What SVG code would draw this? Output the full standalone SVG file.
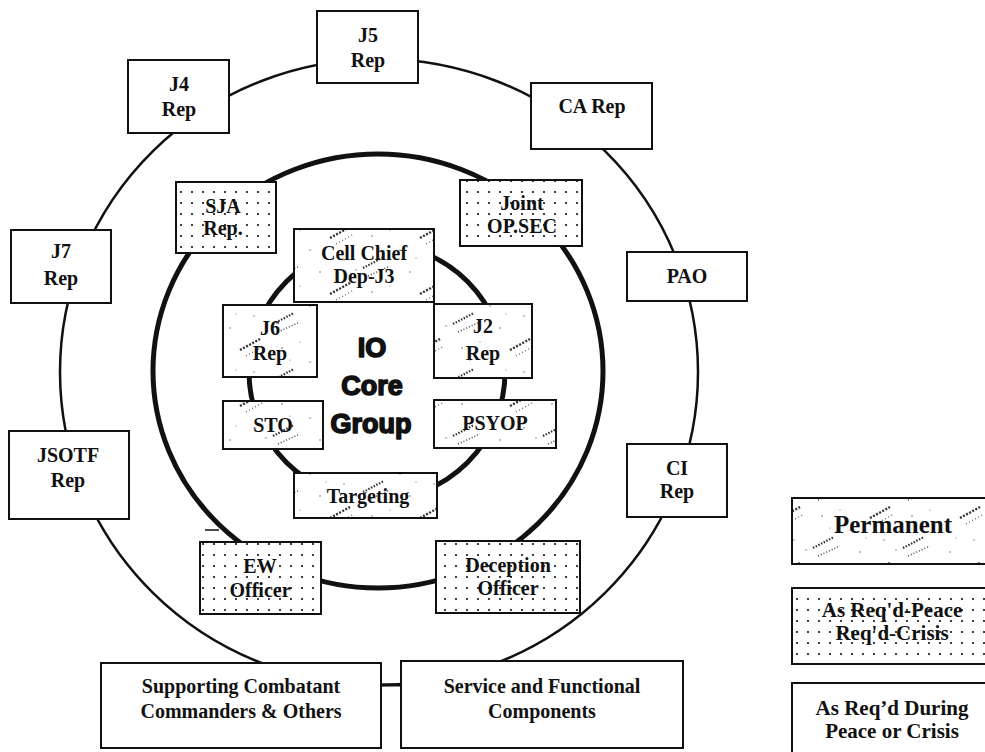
<svg xmlns="http://www.w3.org/2000/svg" width="985" height="752" viewBox="0 0 985 752">
<style>
text{font-family:"Liberation Serif","Times New Roman",serif;font-weight:bold;font-size:20px;fill:#111;text-anchor:middle}
.box{stroke:#111;stroke-width:2}
.plain{fill:#fff}
.perm{fill:url(#perm)}
.dots{fill:url(#dots)}
.core{font-family:"Liberation Sans",Arial,sans-serif;font-weight:bold;font-size:27px;stroke:#111;stroke-width:1.6;stroke-linejoin:round}
.ring{fill:none;stroke:#111}
</style>
<defs>
<pattern id="dots" patternUnits="userSpaceOnUse" width="11" height="11">
<rect width="11" height="11" fill="#fff"/>
<circle cx="5" cy="5" r="1.1" fill="#111"/>
</pattern>
<pattern id="perm" patternUnits="userSpaceOnUse" width="90" height="56">
<rect width="90" height="56" fill="#fff"/>
<path d="M3 44 L24 33" stroke="#333" stroke-width="2.2" stroke-dasharray="1.5 1.5"/>
<path d="M8 52 L30 42" stroke="#444" stroke-width="1.6" stroke-dasharray="1 2"/>
<path d="M60 14 L80 3" stroke="#333" stroke-width="2.4" stroke-dasharray="2 1.5"/>
<path d="M66 20 L84 10" stroke="#555" stroke-width="1.2" stroke-dasharray="1 2.5"/>
<g fill="#666">
<circle cx="12" cy="12" r="0.8"/><circle cx="40" cy="26" r="0.7"/><circle cx="50" cy="48" r="0.8"/>
<circle cx="74" cy="36" r="0.7"/><circle cx="30" cy="6" r="0.6"/><circle cx="86" cy="46" r="0.7"/>
<circle cx="20" cy="24" r="0.6"/><circle cx="56" cy="34" r="0.6"/>
</g>
</pattern>
</defs>

<g id="connectors">
<ellipse class="ring" cx="379" cy="372" rx="319" ry="313" stroke-width="2.5"/>
<ellipse class="ring" cx="378" cy="371" rx="225" ry="217" stroke-width="5"/>
<circle class="ring" cx="377" cy="372" r="128" stroke-width="5"/>
<line x1="381" y1="685" x2="401" y2="685" stroke="#111" stroke-width="3"/>
<line x1="205" y1="530" x2="219" y2="530" stroke="#111" stroke-width="1.5"/>
</g>

<g id="j5"><rect class="box plain" x="317" y="11" width="101" height="72"/><text x="368" y="42">J5</text><text x="368" y="67">Rep</text></g>
<g id="j4"><rect class="box plain" x="128" y="60" width="101" height="73"/><text x="179" y="91">J4</text><text x="179" y="116">Rep</text></g>
<g id="ca"><rect class="box plain" x="531" y="83" width="121" height="66"/><text x="592" y="113">CA Rep</text></g>
<g id="j7"><rect class="box plain" x="11" y="230" width="100" height="73"/><text x="61" y="258">J7</text><text x="61" y="285">Rep</text></g>
<g id="pao"><rect class="box plain" x="627" y="252" width="120" height="49"/><text x="687" y="283">PAO</text></g>
<g id="jsotf"><rect class="box plain" x="9" y="431" width="120" height="88"/><text x="68" y="462">JSOTF</text><text x="68" y="487">Rep</text></g>
<g id="ci"><rect class="box plain" x="627" y="444" width="100" height="73"/><text x="677" y="475">CI</text><text x="677" y="498">Rep</text></g>
<g id="supporting"><rect class="box plain" x="101" y="663" width="280" height="85"/><text x="241" y="693">Supporting Combatant</text><text x="241" y="718">Commanders &amp; Others</text></g>
<g id="service"><rect class="box plain" x="401" y="661" width="282" height="87"/><text x="542" y="693">Service and Functional</text><text x="542" y="718">Components</text></g>

<g id="sja"><rect class="box dots" x="176" y="182" width="100" height="71"/><text x="223" y="213">SJA</text><text x="223" y="235">Rep.</text></g>
<g id="opsec"><rect class="box dots" x="460" y="180" width="122" height="66"/><text x="522" y="210">Joint</text><text x="522" y="233">OP.SEC</text></g>
<g id="ew"><rect class="box dots" x="200" y="542" width="121" height="72"/><text x="260" y="573">EW</text><text x="260" y="597">Officer</text></g>
<g id="deception"><rect class="box dots" x="436" y="541" width="144" height="72"/><text x="508" y="572">Deception</text><text x="508" y="595">Officer</text></g>

<g id="cellchief"><rect class="box perm" x="294" y="229" width="140" height="73"/><text x="364" y="260">Cell Chief</text><text x="364" y="283">Dep-J3</text></g>
<g id="j6"><rect class="box perm" x="223" y="305" width="94" height="72"/><text x="270" y="335">J6</text><text x="270" y="360">Rep</text></g>
<g id="j2"><rect class="box perm" x="434" y="304" width="98" height="74"/><text x="483" y="333">J2</text><text x="483" y="360">Rep</text></g>
<g id="sto"><rect class="box perm" x="223" y="401" width="100" height="48"/><text x="273" y="432">STO</text></g>
<g id="psyop"><rect class="box perm" x="434" y="400" width="122" height="48"/><text x="495" y="430">PSYOP</text></g>
<g id="targeting"><rect class="box perm" x="294" y="473" width="143" height="45"/><text x="368" y="503">Targeting</text></g>

<g id="core"><text class="core" x="372" y="357">IO</text><text class="core" x="372" y="395">Core</text><text class="core" x="371" y="433">Group</text></g>

<g id="legend-permanent"><rect class="box perm" x="792" y="498" width="200" height="66"/><text x="893" y="533" style="font-size:25px">Permanent</text></g>
<g id="legend-asreqd"><rect class="box dots" x="792" y="588" width="200" height="76"/><text x="892" y="617" style="font-size:21px">As Req'd-Peace</text><text x="892" y="640" style="font-size:21px">Req'd-Crisis</text></g>
<g id="legend-during"><rect class="box plain" x="792" y="683" width="200" height="80"/><text x="892" y="715" style="font-size:21px">As Req’d During</text><text x="892" y="738" style="font-size:21px">Peace or Crisis</text></g>
</svg>
